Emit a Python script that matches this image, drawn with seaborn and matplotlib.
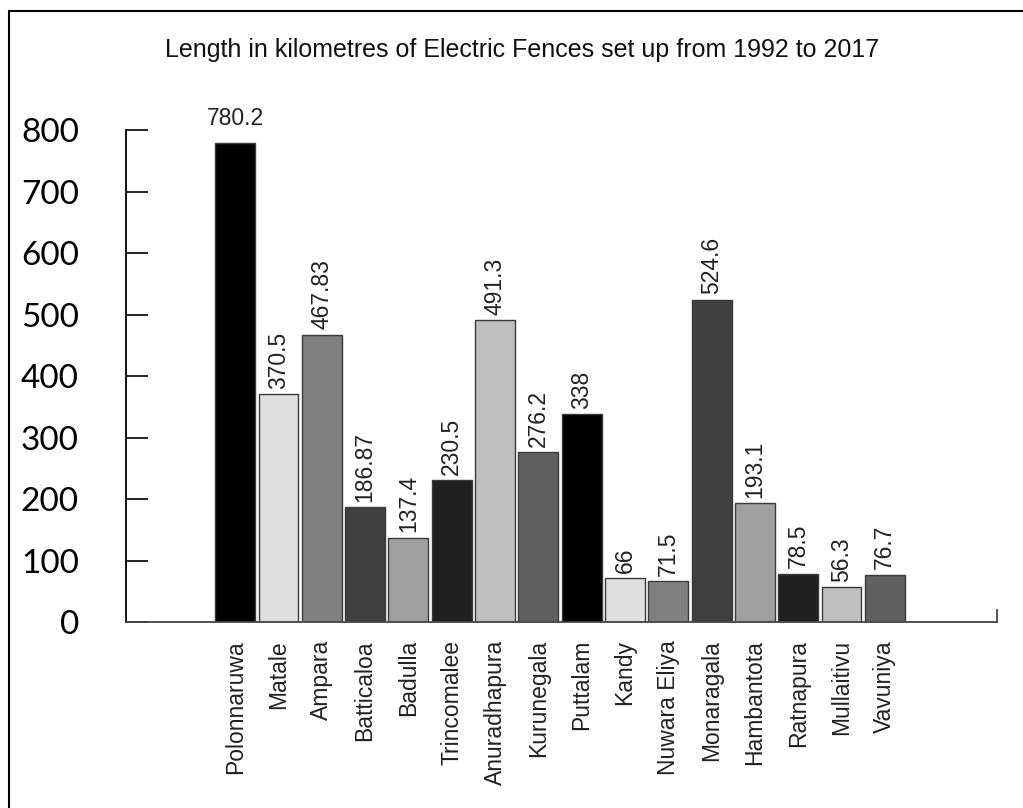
import matplotlib.pyplot as plt
import matplotlib.patches as mpatches
import seaborn as sns

# district values (bar heights) and the text printed above each bar
districts = ["Polonnaruwa", "Matale", "Ampara", "Batticaloa", "Badulla", "Trincomalee",
             "Anuradhapura", "Kurunegala", "Puttalam", "Kandy", "Nuwara Eliya",
             "Monaragala", "Hambantota", "Ratnapura", "Mullaitivu", "Vavuniya"]
lengths_km = [780.2, 370.5, 467.83, 186.87, 137.4, 230.5, 491.3, 276.2, 338,
              71.5, 66, 524.6, 193.1, 78.5, 56.3, 76.7]
bar_texts = ["780.2", "370.5", "467.83", "186.87", "137.4", "230.5", "491.3", "276.2",
             "338", "66", "71.5", "524.6", "193.1", "78.5", "56.3", "76.7"]
grays = ["#000000", "#dedede", "#808080", "#404040", "#a0a0a0", "#202020", "#bfbfbf", "#606060"]
colors = [grays[i % len(grays)] for i in range(len(districts))]

sns.set_style("white")
plt.rcParams["font.family"] = ["Liberation Sans", "DejaVu Sans"]
plt.rcParams["text.color"] = "black"
plt.rcParams["xtick.color"] = "black"
plt.rcParams["ytick.color"] = "black"

fig = plt.figure(figsize=(10.23, 8.08), dpi=100)
ax = fig.add_axes([0.1232, 0.2302, 0.8514, 0.6083])

sns.barplot(x=districts, y=lengths_km, hue=districts, palette=colors, legend=False,
            width=0.92, edgecolor="#3a3a3a", linewidth=1, saturation=1, ax=ax)

for i, (v, t) in enumerate(zip(lengths_km, bar_texts)):
    if i == 0:
        ax.annotate(t, (i, v), xytext=(0, 9), textcoords="offset points",
                    ha="center", va="bottom", fontsize=16.5, color="#222222",
                    annotation_clip=False)
    else:
        ax.annotate(t, (i, v), xytext=(0, 4), textcoords="offset points",
                    ha="center", va="bottom", rotation=90, fontsize=16.5,
                    color="#222222", annotation_clip=False)

ax.set_xlim(-2.52, 17.59)
ax.set_ylim(0, 800)
ax.set_yticks(range(0, 801, 100))
ax.tick_params(axis="y", left=True, direction="in", length=16, width=1.2,
               color="black", pad=34, labelsize=24, labelcolor="black")
for lab in ax.get_yticklabels():
    lab.set_fontfamily("Lato")
ax.tick_params(axis="x", length=0, pad=13, labelsize=16.5, labelrotation=90,
               labelcolor="#222222")

ax.spines["top"].set_visible(False)
ax.spines["left"].set_color("black")
ax.spines["left"].set_linewidth(1.3)
ax.spines["bottom"].set_color("#444444")
ax.spines["bottom"].set_linewidth(1.3)
ax.spines["right"].set_color("#444444")
ax.spines["right"].set_linewidth(1.3)
ax.spines["right"].set_bounds(0, 20)

fig.text(0.51, 0.938, "Length in kilometres of Electric Fences set up from 1992 to 2017",
         ha="center", va="center", fontsize=18, color="#111111")

fig.patches.append(mpatches.Rectangle((9 / 1023, -0.1), 1.2, 1.1 - 11 / 808,
                                      transform=fig.transFigure, fill=False,
                                      edgecolor="black", linewidth=1.5))

fig.savefig("out.png", dpi=100)
